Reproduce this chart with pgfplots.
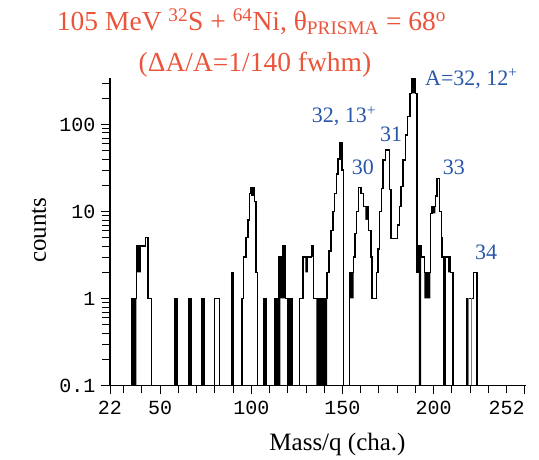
\documentclass[border=0pt]{standalone}
\usepackage{fontspec}
\setmainfont{Liberation Serif}
\newfontfamily\monofont{Liberation Mono}
\usepackage{pgfplots}
\pgfplotsset{compat=1.18}
\providecommand\textsubscript[1]{\ensuremath{_{\mbox{\scriptsize #1}}}}
\definecolor{tred}{RGB}{234,84,58}
\definecolor{ablue}{RGB}{40,86,168}
\begin{document}
\begin{tikzpicture}
\useasboundingbox (-110pt,-73.5pt) rectangle (429pt,385.5pt);
\begin{axis}[
  at={(0pt,0pt)}, anchor=south west,
  scale only axis, width=416.5pt, height=307.5pt,
  xmin=22.5, xmax=251, ymode=log, ymin=0.1, ymax=342,
  axis on top,
  axis x line*=bottom, axis y line*=left,
  axis line style={line width=1.1pt,-},
  xtick={22.5,50,100,150,200,250},
  xticklabels={22,50,100,150,200,\llap{252}},
  minor xtick={30,40,60,70,80,90,110,120,130,140,160,170,180,190,210,220,230,240},
  ytick={0.1,1,10,100}, yticklabels={0.1,1,10,100},
  minor ytick={0.2,0.3,0.4,0.5,0.6,0.7,0.8,0.9,2,3,4,5,6,7,8,9,20,30,40,50,60,70,80,90,200,300},
  tick align=outside, major tick length=9pt, minor tick length=8pt,
  tick style={line width=0.8pt, black},
  ticklabel style={font=\monofont\fontsize{20}{20}\selectfont},
  xticklabel style={yshift=-3pt},
  yticklabel style={xshift=-2pt},
]
% black blocks
\addplot[const plot, fill=black, draw=none] coordinates {
(22.5,0.1)(34.6,1)(37,4)(39.5,0.1)
(57.8,1)(59.2,0.1)(65.8,1)(67.2,0.1)(72.7,1)(74.1,0.1)
(89,2)(90.4,0.1)
(99.9,19)(101.7,0.1)
(106.9,1)(108.3,0.1)
(112.8,1)(115,3)(117.4,4)(118.7,1)(122.4,0.1)
(129.7,3)(131,0.1)(133,4)(134.2,0.1)(135.7,1)(141.6,0.1)
(148.3,61)(149.8,0.1)
(154,2)(156.2,0.1)
(162.6,11.5)(164.4,0.1)
(188,340)(190,0.1)
(191.9,4)(193.2,0.1)(195,2)(198.3,0.1)
(199.2,11.4)(201,0.1)
(205.2,3)(206.7,0.1)(208,3)(209.2,0.1)
(251,0.1)};
% white covers below floating black blocks
\addplot[const plot, fill=white, draw=none] coordinates {
(22.5,0.1)(37,2)(40.1,0.1)
(99.3,15)(102.3,0.1)
(116,1)(119.6,0.1)
(129.1,2)(131.6,0.1)(132.4,3)(134.8,0.1)
(147.7,39)(150.4,0.1)
(153.4,1)(156.8,0.1)
(162,8)(165,0.1)
(187.4,228)(190.6,0.1)
(194.4,1)(198.6,9.5)(201.6,0.1)
(207.4,2)(209.8,0.1)
(251,0.1)};
% histogram outline
\addplot[const plot, black, line width=1.35pt] coordinates {
(22.5,0.1)
(34.6,1)(37,4)(41.9,5)(43.4,1)(45.2,0.1)
(57.8,1)(59.2,0.1)
(65.8,1)(67.2,0.1)
(72.7,1)(74.1,0.1)
(80,1)(82.5,0.1)
(89,2)(90.4,0.1)
(95,1)(95.8,3)(97.1,5)(98.2,8)(99.1,16)(99.9,19)(101.7,13)(102.6,2)(103.4,0.1)
(106.9,1)(108.3,0.1)
(112.8,1)(115,3)(117.4,4)(118.7,1)(122.4,0.1)
(126.6,1)(128.3,3)(133,4)(134.2,1)(141.6,2)(142.6,3.5)(143.7,6)(144.8,10)(145.7,16)(146.6,27)(147.5,40)(148.3,61)(149.8,30)(150.7,0.1)
(154,2)(156.2,3)(157,5.6)(157.9,10)(158.9,19)(160.2,16)(161.7,11.5)(164.4,6)(165.7,3)(166.3,1)
(168.6,2)(169.6,3.7)(170.5,10)(171.4,18.5)(172.3,39)(173.6,51)(175.9,18)(176.6,4.9)
(180.3,7)(181.3,11.4)(182.2,19.3)(183.3,39)(184.5,76)(185.8,123)(187.1,228)(188,340)(190,228)
(191,2)(191.9,4)(193.2,3)(195,2)(198.3,9.5)(199.2,11.4)(201,15)(201.9,24)(203.4,10)(204.2,5)(204.7,3)(209.2,2)(210.7,0.1)
(218.4,1)(221.9,2)(223.9,0.1)
(251,0.1)};
\addplot[gray, line width=0.6pt] coordinates {(219.3,0.1)(219.3,1)};
\addplot[gray, line width=0.6pt] coordinates {(220.6,0.1)(220.6,1)};
\end{axis}
% titles
\node[anchor=base, inner sep=0pt, text=tred, font=\fontsize{27.5}{30}\selectfont] at (141.5pt,355pt)
  {105 MeV \textsuperscript{32}S + \textsuperscript{64}Ni, θ\textsubscript{PRISMA} = 68\textsuperscript{o}};
\node[anchor=base, inner sep=0pt, text=tred, font=\fontsize{27.5}{30}\selectfont] at (145pt,314pt)
  {(ΔA/A=1/140 fwhm)};
% axis labels
\node[anchor=base, inner sep=0pt, font=\fontsize{25}{28}\selectfont] at (227.5pt,-64.5pt) {Mass/q (cha.)};
\node[anchor=base, rotate=90, inner sep=0pt, font=\fontsize{25}{28}\selectfont] at (-64pt,155.5pt) {counts};
% peak labels
\begin{scope}[every node/.style={anchor=base west, inner sep=0pt, text=ablue, font=\fontsize{22}{24}\selectfont}]
\node at (315pt,300.5pt) {A=32, 12\textsuperscript{+}};
\node at (201.7pt,262.8pt) {32, 13\textsuperscript{+}};
\node at (270pt,244.5pt) {31};
\node at (241.7pt,211.2pt) {30};
\node at (332.7pt,211.2pt) {33};
\node at (365pt,126.2pt) {34};
\end{scope}
\end{tikzpicture}
\end{document}
